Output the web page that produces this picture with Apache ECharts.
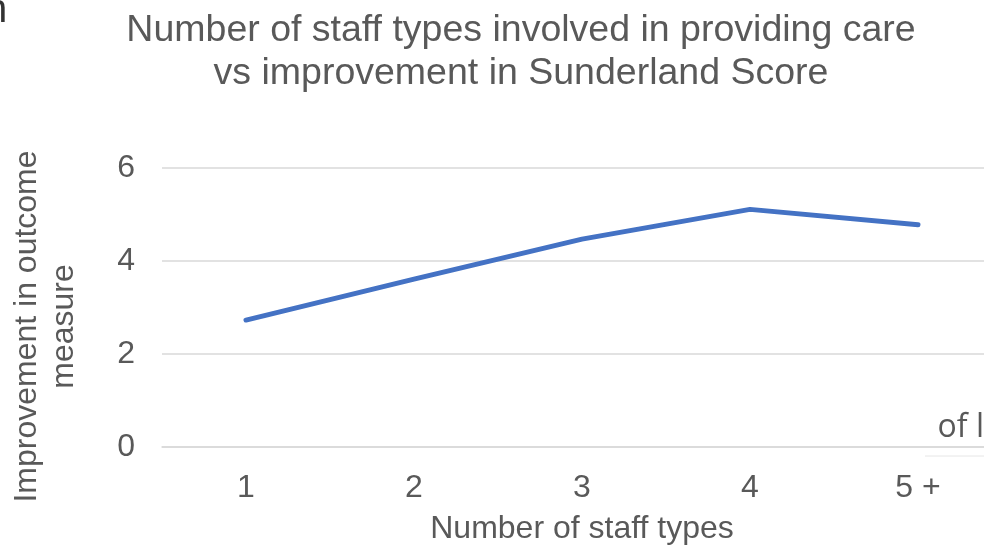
<!DOCTYPE html>
<html>
<head>
<meta charset="utf-8">
<script src="https://cdn.jsdelivr.net/npm/echarts@6/dist/echarts.min.js"></script>
<style>
html,body{margin:0;padding:0;background:#fff;}
#chart{width:984px;height:549px;}
</style>
</head>
<body>
<div id="chart"></div>
<script>
var categories = ['1', '2', '3', '4', '5 +'];
var improvement = [2.73, 3.61, 4.47, 5.11, 4.78];
var yTicks = [0, 2, 4, 6];
var titleText = 'Number of staff types involved in providing care\nvs improvement in Sunderland Score';
var xAxisName = 'Number of staff types';
var yAxisName = 'Improvement in outcome\nmeasure';

var chart = echarts.init(document.getElementById('chart'));
var font = 'Liberation Sans, Arial, sans-serif';
chart.setOption({
  animation: false,
  title: {
    text: titleText,
    left: 516,
    top: 4,
    textAlign: 'center',
    textStyle: { fontFamily: font, fontSize: 37.5, fontWeight: 'normal', color: '#595959', lineHeight: 43 }
  },
  grid: { left: 162, top: 168, width: 840, height: 279, containLabel: false, outerBoundsMode: 'none' },
  xAxis: {
    type: 'category',
    data: categories,
    boundaryGap: true,
    name: xAxisName,
    nameLocation: 'middle',
    nameGap: 66,
    nameTextStyle: { fontFamily: font, fontSize: 32, color: '#595959' },
    axisLine: { lineStyle: { color: '#D9D9D9', width: 1.5 } },
    axisTick: { show: false },
    axisLabel: { fontFamily: font, fontSize: 32, color: '#595959', margin: 25 }
  },
  yAxis: {
    type: 'value',
    min: yTicks[0],
    max: yTicks[yTicks.length - 1],
    interval: 2,
    name: yAxisName,
    nameLocation: 'middle',
    nameRotate: 90,
    nameGap: 79,
    nameTextStyle: { fontFamily: font, fontSize: 32, color: '#595959', lineHeight: 37, padding: [0, 38, 0, 0] },
    axisLine: { show: false },
    axisTick: { show: false },
    axisLabel: { fontFamily: font, fontSize: 32, color: '#595959', margin: 27 },
    splitLine: { lineStyle: { color: '#D9D9D9', width: 1.5 } }
  },
  series: [{
    type: 'line',
    data: improvement,
    symbol: 'none',
    lineStyle: { color: '#4472C4', width: 5, cap: 'round', join: 'round' }
  }],
  graphic: [
    { type: 'text', left: -15, top: -9, style: { text: 'n', fontFamily: font, fontSize: 40, fill: '#333333' } },
    { type: 'text', right: 0, top: 412, style: { text: 'of l', fontFamily: 'Open Sans, sans-serif', fontSize: 32, fill: '#595959' } },
    { type: 'line', shape: { x1: 925, y1: 456, x2: 984, y2: 456 }, style: { stroke: '#E6E6E6', lineWidth: 1 } }
  ]
});
</script>
</body>
</html>
